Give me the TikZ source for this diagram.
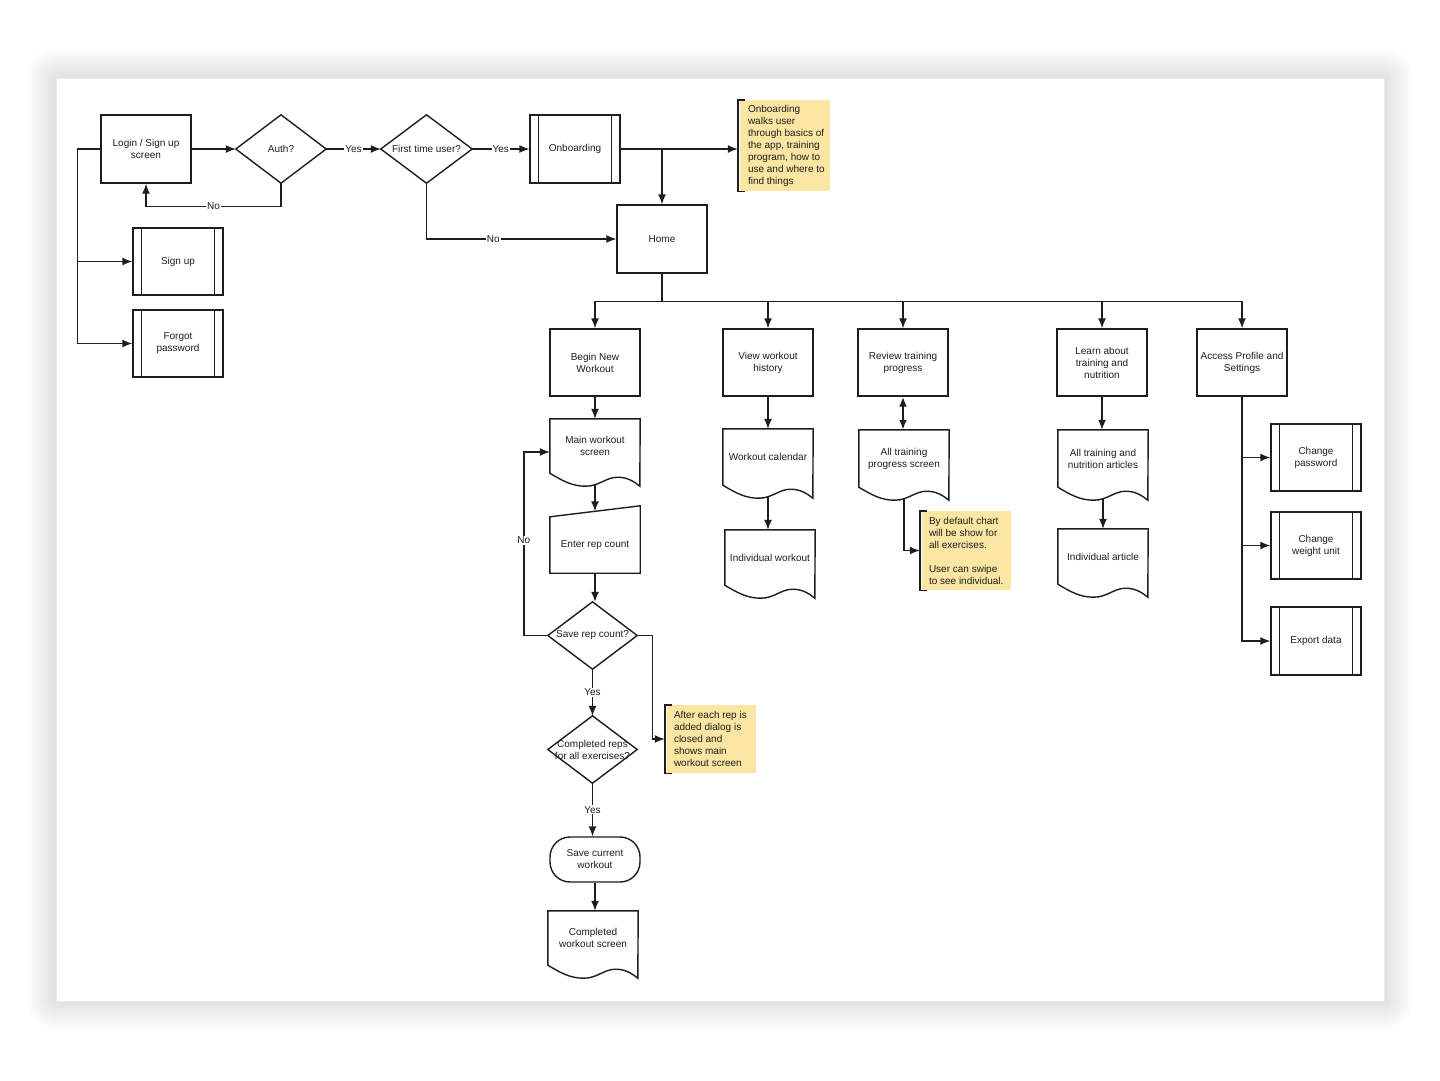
\documentclass[tikz,border=0pt]{standalone}
\usepackage{fontspec}
\setmainfont{Liberation Sans}
\usetikzlibrary{arrows.meta,calc}
\definecolor{ln}{HTML}{1E1E1E}
\definecolor{txt}{HTML}{1E1E1E}
\definecolor{notey}{HTML}{FAE6A2}
\newcommand\subbars[1]{\draw[con] ([xshift=9pt]#1.north west) -- ([xshift=9pt]#1.south west) ([xshift=-9pt]#1.north east) -- ([xshift=-9pt]#1.south east);}
\newcommand\diamondout[1]{\draw[con] (#1.north) -- (#1.east) -- (#1.south) -- (#1.west) -- cycle;}
\newcommand\docout[1]{\draw[con] ([shift={(90pt,-13pt)}]#1.south west) -- (#1.north east) -- (#1.north west) -- (#1.south west)
  .. controls ([shift={(13.5pt,-8pt)}]#1.south west) and ([shift={(22.5pt,-13pt)}]#1.south west) .. ([shift={(36pt,-13pt)}]#1.south west)
  .. controls ([shift={(49.5pt,-13pt)}]#1.south west) and ([shift={(56pt,-4pt)}]#1.south west) .. ([shift={(68pt,-4pt)}]#1.south west)
  .. controls ([shift={(77pt,-4pt)}]#1.south west) and ([shift={(84pt,-8pt)}]#1.south west) .. ([shift={(90pt,-13pt)}]#1.south west) -- cycle;}
\newcommand\manin[1]{\draw[con] (#1.north west) -- ([yshift=11pt]#1.north east) -- (#1.south east) -- (#1.south west) -- cycle;}
\newcommand\bracketL[1]{\draw[con] ([xshift=5pt]#1.north west) -| ([xshift=-2pt]#1.south west) -- ([xshift=5pt]#1.south west);}
\begin{document}
\begin{tikzpicture}[x=1pt,y=-1pt,
  t/.style={font=\fontsize{10}{12}\selectfont, text=txt, align=center, inner sep=0pt},
  proc/.style={t, draw=ln, line width=1.4pt, minimum width=90pt, minimum height=68pt},
  shp/.style={t, minimum width=90pt, minimum height=68pt},
  con/.style={draw=ln, line width=1.4pt, line join=miter},
  arr/.style={draw=ln, line width=1.4pt, -{Latex[length=10pt,width=8pt]}},
  dbl/.style={draw=ln, line width=2.2pt, {Latex[length=10pt,width=8pt]}-{Latex[length=10pt,width=8pt]}},
  lbl/.style={t, fill=white, inner sep=1pt},
  notebg/.style={fill=notey, draw=none, inner sep=0pt},
  notetxt/.style={font=\fontsize{10}{12}\selectfont, text=txt, align=left, inner sep=0pt}]
\useasboundingbox (0,0) rectangle (1440,1080);
\fill[white] (0,0) rectangle (1440,1080);
% page shadow
\foreach \i in {1,...,30}
  \fill[black, opacity=0.0035, rounded corners=\i pt] (56-\i,78-\i) rectangle (1384+\i,1001+\i);
\fill[white] (56,78) rectangle (1384,1001);
\draw[black!8, line width=0.6pt] (56,78) rectangle (1384,1001);

% top row
\node[proc] (login) at (146,149) {Login / Sign up\\screen};
\node[shp] (auth) at (281,149) {Auth?}; \diamondout{auth}
\node[shp, minimum width=91pt] (first) at (426.5,149) {First time user?}; \diamondout{first}
\node[proc] (onb) at (575,149) {Onboarding}; \subbars{onb}
\node[notebg, minimum width=90pt, minimum height=91pt] (note1) at (785,145.5) {}; \bracketL{note1}
\node[notetxt, anchor=west] (note1t) at ([xshift=8pt]note1.west) {Onboarding\\walks user\\through basics of\\the app, training\\program, how to\\use and where to\\find things};
\node[proc] (home) at (662,239) {Home};
\node[proc, minimum height=67pt] (signup) at (178,261.5) {Sign up}; \subbars{signup}
\node[proc, minimum height=67pt] (forgot) at (178,343.5) {Forgot\\password}; \subbars{forgot}

% second row
\node[proc, minimum height=67pt] (begin) at (595,362.5) {Begin New\\Workout};
\node[proc, minimum height=67pt] (view) at (768,362.5) {View workout\\history};
\node[proc, minimum height=67pt] (review) at (903,362.5) {Review training\\progress};
\node[proc, minimum height=67pt] (learn) at (1102,362.5) {Learn about\\training and\\nutrition};
\node[proc, minimum height=67pt] (access) at (1242,362.5) {Access Profile and\\Settings};

% workout column
\node[shp, minimum height=54pt] (main) at (595,446) {Main workout\\screen}; \docout{main}
\node[shp, minimum height=56pt] (enter) at (595,545) {Enter rep count}; \manin{enter}
\node[shp, minimum width=89pt, minimum height=67pt] (save) at (592.5,635.5) {Save rep count?}; \diamondout{save}
\node[shp, minimum width=89pt, minimum height=67pt] (creps) at (592.5,749.5) {Completed reps\\for all exercises?}; \diamondout{creps}
\node[proc, minimum height=45pt, rounded corners=20pt] (scw) at (595,859.5) {Save current\\workout};
\node[shp, minimum height=54pt] (cws) at (593,938) {Completed\\workout screen}; \docout{cws}
\node[notebg, minimum width=89pt, minimum height=68pt] (note2) at (711.5,739) {}; \bracketL{note2}
\node[notetxt, anchor=west] (note2t) at ([xshift=7pt]note2.west) {After each rep is\\added dialog is\\closed and\\shows main\\workout screen};

% other columns
\node[shp, minimum height=56pt] (wcal) at (768,457) {Workout calendar}; \docout{wcal}
\node[shp, minimum height=55pt] (indw) at (770,557.5) {Individual workout}; \docout{indw}
\node[shp, minimum height=57pt] (atp) at (904,458.5) {All training\\progress screen}; \docout{atp}
\node[notebg, minimum width=89pt, minimum height=79pt] (note3) at (966.5,550.5) {}; \bracketL{note3}
\node[notetxt, anchor=west] (note3t) at ([xshift=7pt]note3.west) {By default chart\\will be show for\\all exercises.\\[12pt]User can swipe\\to see individual.};
\node[shp, minimum height=57pt] (atn) at (1103,458.5) {All training and\\nutrition articles}; \docout{atn}
\node[shp, minimum height=55pt] (inda) at (1103,556.5) {Individual article}; \docout{inda}
\node[proc, minimum height=67pt] (cpw) at (1316,457.5) {Change\\password}; \subbars{cpw}
\node[proc, minimum height=67pt] (cwu) at (1316,545.5) {Change\\weight unit}; \subbars{cwu}
\node[proc] (exp) at (1316,641) {Export data}; \subbars{exp}

% connectors
\draw[arr] (login.east) -- (auth.west);
\draw[arr] (auth.east) -- (first.west) node[lbl, midway] {Yes};
\draw[arr] (first.east) -- (onb.west) node[lbl, midway] {Yes};
\draw[arr] (auth.south) -- ++(0,23) -| (login.south) node[lbl, pos=0.25] {No};
\draw[arr] (first.south) |- (home.west) node[lbl, pos=0.676] {No};
\draw[arr] (onb.east) -- ([xshift=-2pt]onb.east -| note1.west);
\draw[arr] (onb.east) -| (home.north);
\draw[arr] (login.west) -- ++(-23,0) |- (signup.west);
\draw[arr] (login.west) -- ++(-23,0) |- (forgot.west);
\foreach \c in {begin,view,review,learn,access}
  \draw[arr] (home.south) -- ++(0,28) -| (\c.north);
\draw[arr] (begin.south) -- (main.north);
\draw[arr] ([yshift=-12pt]main.south) -- ([yshift=5.5pt]enter.north);
\draw[arr] (enter.south) -- (enter.south |- save.north);
\draw[arr] (save.west) -- ++(-24,0) |- ([yshift=-6pt]main.west) node[lbl, pos=0.26] {No};
\draw[arr] (save.east) -- ++(15,0) |- ([xshift=-2pt]note2.west);
\draw[arr] (save.south) -- (creps.north) node[lbl, midway] {Yes};
\draw[arr] (creps.south) -- (creps.south |- scw.north) node[lbl, midway] {Yes};
\draw[arr] (scw.south) -- (scw.south |- cws.north);
\draw[arr] (view.south) -- (wcal.north);
\draw[arr] ([yshift=-12pt]wcal.south) -- (wcal.south |- indw.north);
\draw[dbl] (review.south) -- (review.south |- atp.north);
\draw[arr] ([yshift=-12pt]atp.south) |- ([xshift=-2pt]note3.west);
\draw[arr] (learn.south) -- (learn.south |- atn.north);
\draw[arr] ([yshift=-12pt]atn.south) -- (atn.south |- inda.north);
\draw[arr] (access.south) |- (cpw.west);
\draw[arr] (access.south) |- (cwu.west);
\draw[arr] (access.south) |- (exp.west);
\end{tikzpicture}
\end{document}
